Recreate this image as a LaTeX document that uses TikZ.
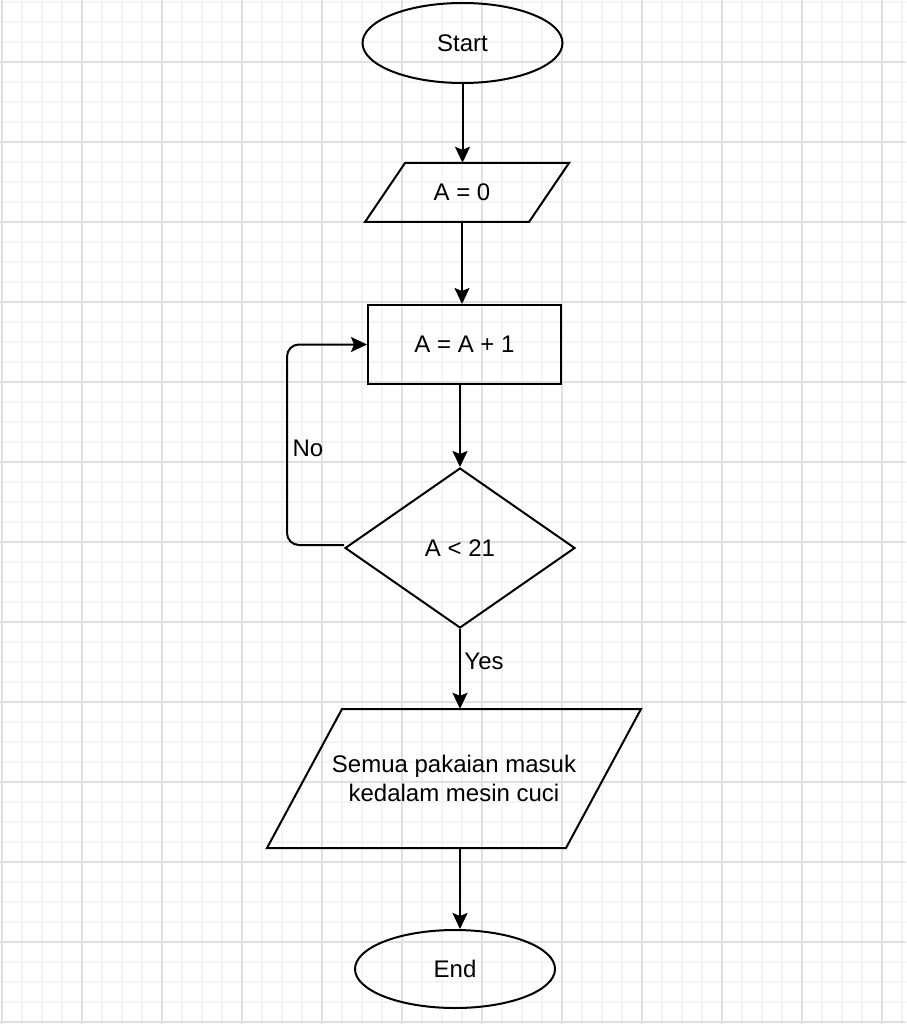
\documentclass[tikz,border=0pt]{standalone}
\usepackage{fontspec}
\setmainfont{Liberation Sans}
\usetikzlibrary{shapes.geometric,arrows.meta}
\definecolor{minorgrid}{HTML}{F4F4F4}
\definecolor{majorgrid}{HTML}{E0E0E0}
\begin{document}
\begin{tikzpicture}[x=1pt,y=-1pt,
  txt/.style={font=\fontsize{24}{28.8}\selectfont, text=black},
  shapeline/.style={draw=black, line width=2pt},
  flow/.style={line width=2pt, -{Stealth[length=16pt,width=15pt,inset=3pt]}},
  terminal/.style={txt, shapeline, ellipse, minimum width=200pt, minimum height=80pt, inner sep=0pt},
  procbox/.style={txt, shapeline, rectangle, minimum width=193pt, minimum height=79pt, inner sep=0pt},
  decision/.style={txt, shapeline, diamond, minimum width=230pt, minimum height=160pt, aspect=1.4375, inner sep=0pt},
  iobox/.style={txt, rectangle, inner sep=0pt, align=center}
]
\useasboundingbox (0,0) rectangle (906,1024);
\fill[white] (0,0) rectangle (906,1024);
% grid
\foreach \x in {2,22,...,902} \draw[minorgrid, line width=1.6pt] (\x,0) -- (\x,1024);
\foreach \y in {2,22,...,1022} \draw[minorgrid, line width=1.6pt] (0,\y) -- (906,\y);
\foreach \x in {2,82,...,902} \draw[majorgrid, line width=1.2pt] (\x,0) -- (\x,1024);
\foreach \y in {62,142,...,1022} \draw[majorgrid, line width=1.2pt] (0,\y) -- (906,\y);

% nodes
\node[terminal] (start) at (462.5,43) {Start};
\node[iobox, minimum width=204pt, minimum height=59pt] (a0) at (462,192.5) {A = 0};
\draw[shapeline] (a0.center) ++(-57,-29.5) -- ++(164,0) -- ++(-40,59) -- ++(-164,0) -- cycle;
\node[procbox] (inc) at (464.5,344.5) {A = A + 1};
\node[decision] (dia) at (460,548) {A < 21};
\node[iobox, minimum width=374pt, minimum height=139pt] (out) at (454,778.5) {Semua pakaian masuk\\kedalam mesin cuci};
\draw[shapeline] (out.center) ++(-112,-69.5) -- ++(299,0) -- ++(-75,139) -- ++(-299,0) -- cycle;
\node[terminal, minimum height=78pt] (end) at (455,969) {End};

\coordinate (loopx) at (287,0);
\node[txt, inner sep=0pt] (no) at (308,448) {No};
\node[txt, inner sep=0pt] (yes) at (484,661) {Yes};

% connectors
\draw[flow] (start.south) -- (start.south |- a0.north);
\draw[flow] (a0.south) -- (a0.south |- inc.north);
\draw[flow] (dia.north |- inc.south) -- (dia.north);
\draw[flow] (dia.south) -- (dia.south |- out.north);
\draw[flow] (dia.south |- out.south) -- (dia.south |- end.north);
\draw[flow, rounded corners=12pt] ([yshift=3pt]dia.west) -- ([yshift=3pt]dia.west -| loopx) -- (inc.west -| loopx) -- (inc.west);
\end{tikzpicture}
\end{document}
